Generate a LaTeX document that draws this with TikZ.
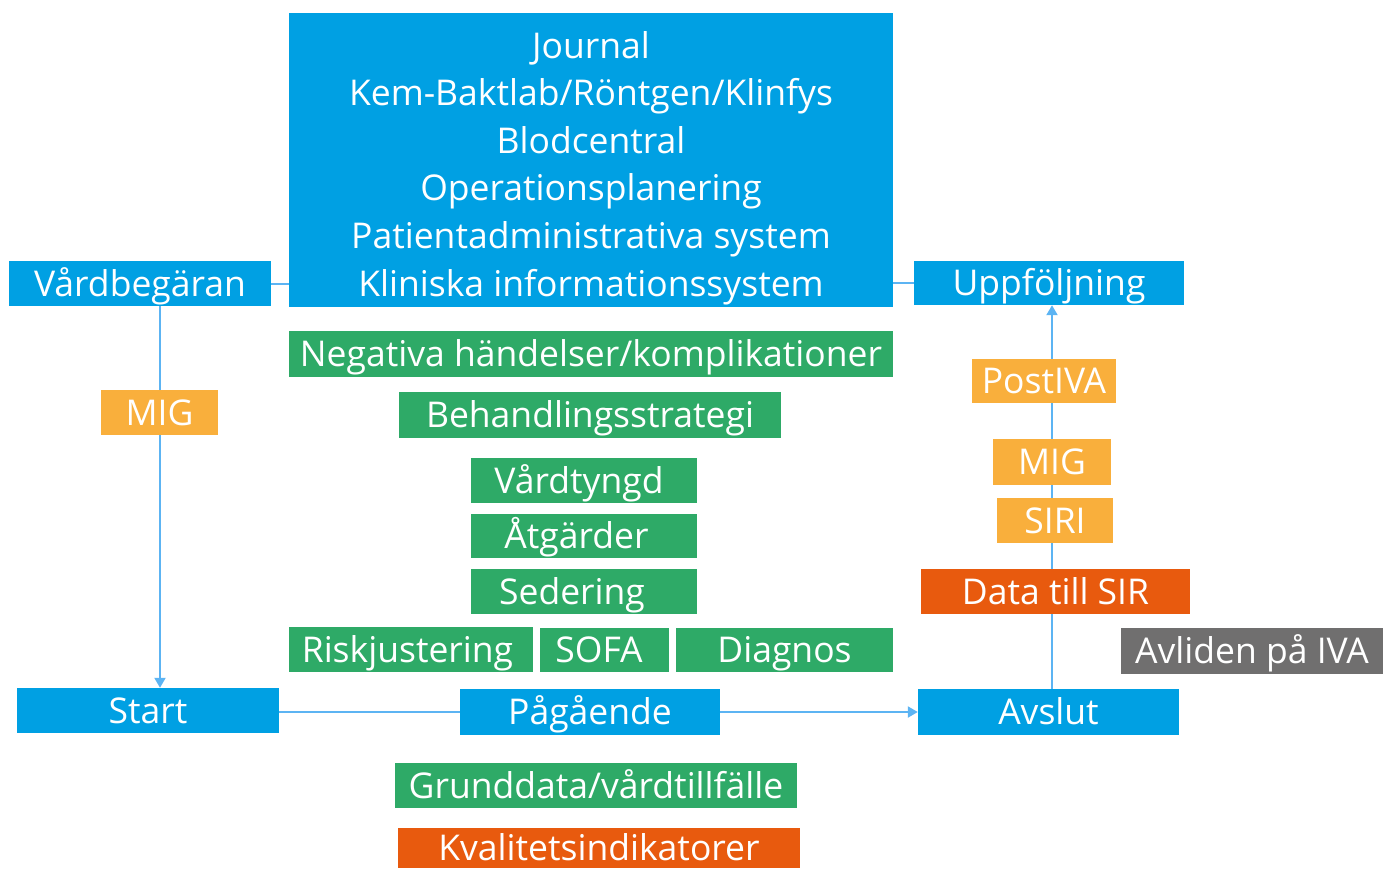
\documentclass[tikz,border=0pt]{standalone}
\usepackage{fontspec}
\setmainfont{Open Sans}
\usetikzlibrary{arrows.meta,backgrounds}
\definecolor{cblue}{RGB}{0,160,227}
\definecolor{cgreen}{RGB}{46,170,103}
\definecolor{corange}{RGB}{249,175,60}
\definecolor{cdark}{RGB}{232,90,14}
\definecolor{cgray}{RGB}{112,111,111}
\definecolor{cline}{RGB}{92,180,243}
\newcommand{\boxfont}{\fontsize{35.5}{42}\selectfont}
\tikzset{
  box/.style={inner sep=0pt, text=white, font=\boxfont, text height=25pt, text depth=0pt},
  sz/.style n args={2}{minimum width=#1pt, minimum height=#2pt},
  bluebox/.style={box, fill=cblue},
  greenbox/.style={box, fill=cgreen},
  orangebox/.style={box, fill=corange},
  darkbox/.style={box, fill=cdark},
  graybox/.style={box, fill=cgray},
  line/.style={draw=cline, line width=2pt},
  arr/.style={line, -{Triangle[width=11pt,length=10pt]}},
  jline/.style={inner sep=0pt, text=white, font=\boxfont, text height=25pt, text depth=0pt}
}
\begin{document}
\begin{tikzpicture}[x=1pt,y=-1pt]
\useasboundingbox (0,0) rectangle (1391,868);
% boxes
\node[bluebox, sz={262}{45}] (vard) at (140,283.5) {Vårdbegäran};
\node[bluebox, sz={270}{44}] (upp) at (1049,283) {Uppföljning};
\node[bluebox, sz={604}{294}] (journal) at (591,160) {};
\node[jline] (j1) at (591,45.5) {Journal};
\node[jline] (j2) at (591,93.1) {Kem-Baktlab/Röntgen/Klinfys};
\node[jline] (j3) at (591,140.7) {Blodcentral};
\node[jline] (j4) at (591,188.3) {Operationsplanering};
\node[jline] (j5) at (591,235.9) {Patientadministrativa system};
\node[jline] (j6) at (591,283.5) {Kliniska informationssystem};
\node[greenbox, sz={604}{46}] (neg) at (591,354) {Negativa händelser/komplikationer};
\node[greenbox, sz={382}{46}] (beh) at (590,415) {Behandlingsstrategi};
\node[greenbox, sz={226}{45}] (vtyngd) at (584,480.5) {Vårdtyngd\hspace*{10pt}};
\node[greenbox, sz={226}{44}] (atg) at (584,536) {Åtgärder\hspace*{15pt}};
\node[greenbox, sz={226}{45}] (sed) at (584,591.5) {Sedering\hspace*{24pt}};
\node[greenbox, sz={244}{45}] (risk) at (411,649.5) {Riskjustering\hspace*{7pt}};
\node[greenbox, sz={129}{44}] (sofa) at (604.5,650) {SOFA\hspace*{11pt}};
\node[greenbox, sz={217}{44}] (diag) at (784.5,650) {Diagnos};
\node[bluebox, sz={262}{45}] (start) at (148,710.5) {Start};
\node[bluebox, sz={260}{46}] (pag) at (590,712) {Pågående};
\node[bluebox, sz={261}{46}] (avslut) at (1048.5,712) {Avslut};
\node[greenbox, sz={402}{45}] (grund) at (596,785.5) {Grunddata/vårdtillfälle};
\node[darkbox, sz={402}{40}] (kval) at (599,848) {Kvalitetsindikatorer};
\node[orangebox, sz={117}{45}] (mig1) at (159.5,412.5) {MIG};
\node[orangebox, sz={144}{44}] (postiva) at (1044,381) {PostIVA};
\node[orangebox, sz={118}{46}] (mig2) at (1052,462) {MIG};
\node[orangebox, sz={116}{45}] (siri) at (1055,520.5) {SIRI};
\node[darkbox, sz={269}{45}] (data) at (1055.5,591.5) {Data till SIR};
\node[graybox, sz={262}{46}] (avliden) at (1252,651) {Avliden på IVA};
% connectors behind the boxes
\coordinate (lx) at (160,0);
\coordinate (rx) at (1052,0);
\begin{scope}[on background layer]
\draw[line] (vard.east) -- (vard.east -| journal.west);
\draw[line] (upp.west) -- (upp.west -| journal.east);
\draw[arr] (vard.south -| lx) -- (start.north -| lx);
\draw[line] (start.east |- pag.west) -- (pag.west);
\draw[arr] (pag.east) -- (avslut.west);
\draw[arr] (avslut.north -| rx) -- (upp.south -| rx);
\end{scope}
\end{tikzpicture}
\end{document}
